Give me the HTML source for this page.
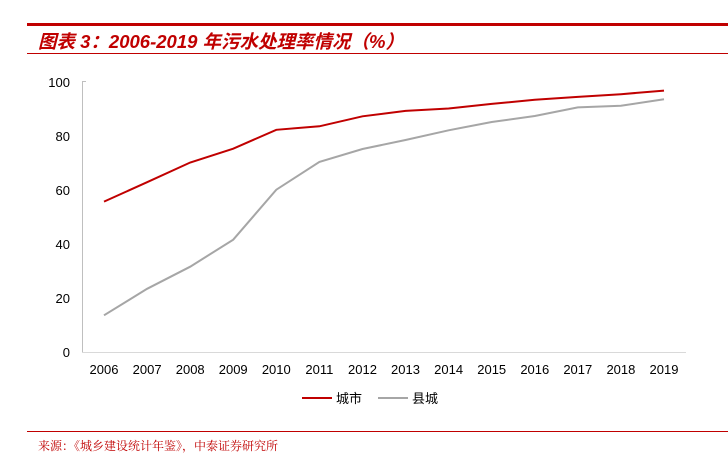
<!DOCTYPE html>
<html><head><meta charset="utf-8"><style>
body{margin:0;background:#fff;width:728px;height:467px;overflow:hidden;position:relative;font-family:"Liberation Sans","Noto Sans CJK SC",sans-serif}
</style></head><body>
<svg width="728" height="467" style="position:absolute;left:0;top:0">
<rect x="27" y="23" width="701" height="3" fill="#c00000"/>
<text x="38" y="48" font-size="18.5" font-weight="bold" font-style="italic" fill="#c00000" font-family="Liberation Sans,Noto Sans CJK SC,sans-serif">图表 3：2006-2019 年污水处理率情况（%）</text>
<rect x="27" y="53" width="701" height="1" fill="#c00000"/>
<line x1="82.5" y1="81" x2="82.5" y2="352" stroke="#bfbfbf"/>
<line x1="82" y1="352.5" x2="686" y2="352.5" stroke="#d9d9d9"/>
<line x1="82" y1="81.5" x2="86" y2="81.5" stroke="#bfbfbf"/>
<g font-size="13" fill="#000" text-anchor="end">
<text x="70" y="87">100</text><text x="70" y="141">80</text><text x="70" y="195">60</text><text x="70" y="249">40</text><text x="70" y="303">20</text><text x="70" y="357">0</text>
</g>
<g font-size="13" fill="#000" text-anchor="middle">
<text x="104" y="374">2006</text><text x="147.1" y="374">2007</text><text x="190.2" y="374">2008</text><text x="233.2" y="374">2009</text><text x="276.3" y="374">2010</text><text x="319.4" y="374">2011</text><text x="362.5" y="374">2012</text><text x="405.5" y="374">2013</text><text x="448.6" y="374">2014</text><text x="491.7" y="374">2015</text><text x="534.8" y="374">2016</text><text x="577.8" y="374">2017</text><text x="620.9" y="374">2018</text><text x="664" y="374">2019</text>
</g>
<polyline fill="none" stroke="#a6a6a6" stroke-width="2" points="104,315.3 147.1,288.8 190.2,266.7 233.2,239.7 276.3,189.7 319.4,161.9 362.5,149 405.5,140 448.6,130.3 491.7,122 534.8,116 577.8,107.4 620.9,105.8 664,99.3"/>
<polyline fill="none" stroke="#c00000" stroke-width="2" points="104,201.6 147.1,182.2 190.2,162.5 233.2,148.7 276.3,129.8 319.4,126.3 362.5,116.3 405.5,110.9 448.6,108.5 491.7,103.9 534.8,99.8 577.8,96.9 620.9,94.2 664,90.6"/>
<line x1="302" y1="398" x2="332" y2="398" stroke="#c00000" stroke-width="2"/>
<text x="336" y="403" font-size="13" fill="#000">城市</text>
<line x1="378" y1="398" x2="408" y2="398" stroke="#a6a6a6" stroke-width="2"/>
<text x="412" y="403" font-size="13" fill="#000">县城</text>
<rect x="27" y="431" width="701" height="1" fill="#c00000"/>
<text x="38" y="450" font-size="12" fill="#c00000" font-family="Noto Serif CJK SC,serif">来源：《城乡建设统计年鉴》，中泰证券研究所</text>
</svg>
</body></html>
